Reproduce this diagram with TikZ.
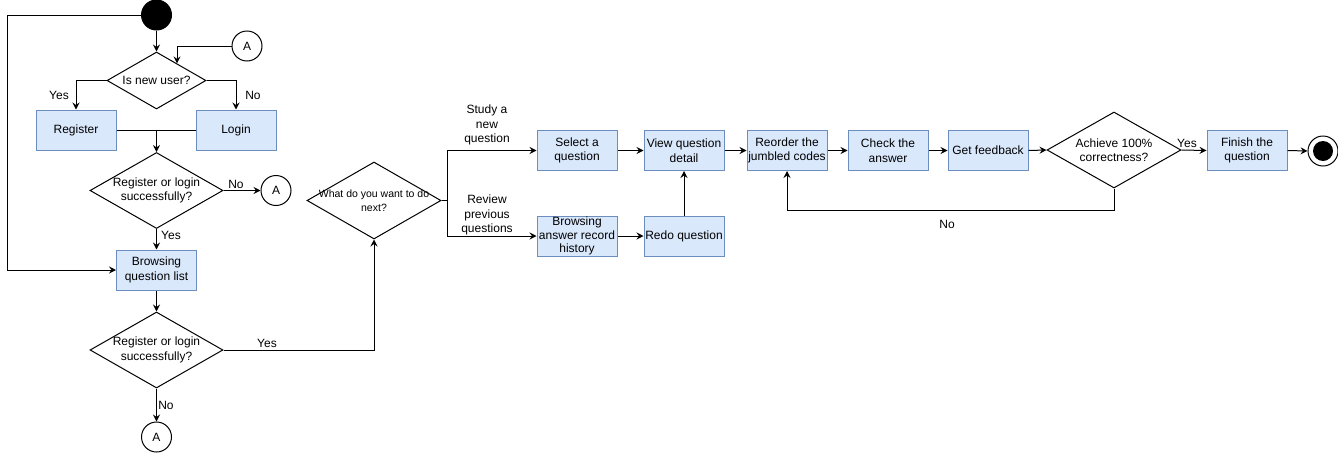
\documentclass[tikz,border=0pt]{standalone}
\usepackage{fontspec}
\setmainfont{Liberation Sans}
\usetikzlibrary{shapes.geometric,arrows.meta,calc}
\definecolor{boxfill}{HTML}{DAE8FC}
\definecolor{boxline}{HTML}{6C8EBF}

\begin{document}
\begin{tikzpicture}[x=1pt,y=-1pt,
  every node/.style={font=\fontsize{12pt}{14.5pt}\selectfont, align=center, inner sep=0pt},
  flow/.style={line width=1pt, -{Stealth[length=7pt,width=7pt,inset=2.5pt]}},
  link/.style={line width=1pt},
  stepbox/.style={draw=boxline, fill=boxfill, line width=1pt, minimum width=80pt, minimum height=40pt},
  decision/.style 2 args={diamond, draw, line width=1pt, minimum width=#1pt, minimum height=#2pt},
  conn/.style={circle, draw, line width=1pt, minimum size=30pt},
  small/.style={font=\fontsize{10.5pt}{13.5pt}\selectfont}
]
\useasboundingbox (0,0) rectangle (1338,453);

% login column
\node[circle, draw, fill=black, line width=1pt, minimum size=30pt] (start) at (156.5,15) {};
\node[decision={99}{57}, label={center:Is new user?}] (d1) at (156.5,80.5) {};
\node[conn] (a1) at (247,46) {A};
\node[stepbox] (reg) at (76,130) {Register};
\node[stepbox] (login) at (236,130) {Login};
\node[decision={133}{76}, label={center:{Register or login\\successfully?}}] (d2) at (156.5,190.5) {};
\node[conn] (a2) at (276,190.5) {A};
\node[stepbox] (bql) at (156.5,270) {Browsing\\question list};
\node[decision={133}{76}, label={center:{Register or login\\successfully?}}] (d3) at (156.5,350) {};
\node[conn] (a3) at (156.5,437) {A};

% question flow
\node[decision={134}{77}, label={[small]center:{What do you want to do\\next?}}] (d4) at (374,200.5) {};
\node[stepbox] (sel) at (577,150.5) {Select a\\question};
\node[stepbox] (view) at (684,150.5) {View question\\detail};
\node[stepbox, font=\fontsize{12pt}{13.5pt}\selectfont] (bah) at (577,236) {Browsing\\answer record\\history};
\node[stepbox] (redo) at (684,236) {Redo question};
\node[stepbox] (reo) at (787,150.5) {Reorder the\\jumbled codes};
\node[stepbox] (chk) at (888,150.5) {Check the\\answer};
\node[stepbox] (fb) at (988,150.5) {Get feedback};
\node[decision={134}{76}, label={center:{Achieve 100\%\\correctness?}}] (d5) at (1114,150) {};
\node[stepbox] (fin) at (1247,150.5) {Finish the\\question};
\node[conn] (end) at (1323,151) {};
\node[circle, fill=black, minimum size=20pt] (endcore) at (end.center) {};

% edge labels
\node (lyes1) at (59,95) {Yes};
\node (lno1) at (253,95) {No};
\node (lno2) at (236,184) {No};
\node (lyes2) at (171,235) {Yes};
\node (lyes3) at (267,343) {Yes};
\node (lno3) at (166,405) {No};
\node (lstudy) at (487,125) {Study a\\new\\question};
\node (lreview) at (487,215) {Review\\previous\\questions};
\node (lyes5) at (1187,143) {Yes};
\node (lno5) at (947,224) {No};

% helper points
\coordinate (rail) at (7,15);
\coordinate (fork) at ($(d4.east)+(6,0)$);
\coordinate (loopdown) at ($(d5.south)+(0,22)$);
\coordinate (a1hit) at ($(d1.north)!0.41!(d1.east)$);

% connectors
\draw[flow] (start.south) -- (d1.north);
\draw[flow] (start.west) -- (rail) |- (bql.west);
\draw[flow] (a1.west) -| (a1hit);
\draw[flow] (d1.west) -| (reg.north);
\draw[flow] (d1.east) -| (login.north);
\draw[link] (reg.east) -- (login.west);
\draw[flow] (d2.north |- reg.east) -- (d2.north);
\draw[flow] (d2.east) -- (a2.west);
\draw[flow] (d2.south) -- (bql.north);
\draw[flow] (bql.south) -- (d3.north);
\draw[flow] (d3.east) -| (d4.south);
\draw[flow] (d3.south) -- (a3.north);
\draw[link] (d4.east) -- (fork);
\draw[flow] (fork) |- (sel.west);
\draw[flow] (fork) |- (bah.west);
\draw[flow] (sel.east) -- (view.west);
\draw[flow] (bah.east) -- (redo.west);
\draw[flow] (redo.north) -- (view.south);
\draw[flow] (view.east) -- (reo.west);
\draw[flow] (reo.east) -- (chk.west);
\draw[flow] (chk.east) -- (fb.west);
\draw[flow] (fb.east) -- (d5.west);
\draw[flow] (d5.east) -- (fin.west);
\draw[flow] (fin.east) -- (end.west);
\draw[flow] (d5.south) -- (loopdown) -| (reo.south);
\end{tikzpicture}
\end{document}
